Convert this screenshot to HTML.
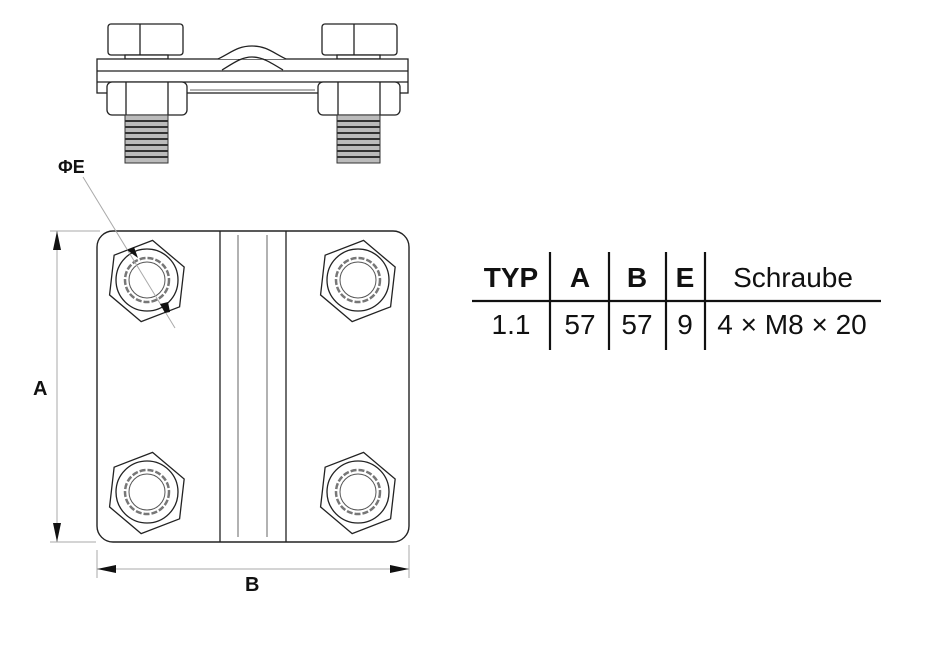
<!DOCTYPE html>
<html><head><style>body{margin:0;background:#fff}svg{display:block}</style></head>
<body>
<svg width="950" height="650" viewBox="0 0 950 650" xmlns="http://www.w3.org/2000/svg" font-family="Liberation Sans, Arial, sans-serif">
<defs>
<g id="bolt">
<polygon points="0,-40 35,-18 36,22 0,42 -35,20 -36,-20" transform="rotate(8)" fill="#fff" stroke="#222" stroke-width="1.3"/>
<circle r="31" fill="none" stroke="#222" stroke-width="1.3"/>
<circle r="22" fill="none" stroke="#777" stroke-width="2.5" stroke-dasharray="6 2"/>
<circle r="18" fill="none" stroke="#555" stroke-width="1"/>
</g>
<g id="thread">
<rect x="0" y="0" width="43" height="48" fill="#bbb" stroke="#333" stroke-width="1"/>
<g stroke="#333" stroke-width="2">
<line x1="0" y1="6" x2="43" y2="6"/><line x1="0" y1="12" x2="43" y2="12"/><line x1="0" y1="18" x2="43" y2="18"/><line x1="0" y1="24" x2="43" y2="24"/><line x1="0" y1="30" x2="43" y2="30"/><line x1="0" y1="36" x2="43" y2="36"/><line x1="0" y1="42" x2="43" y2="42"/></g>
</g>
</defs>
<!-- top view -->
<g stroke="#222" stroke-width="1.3" fill="#fff">
<rect x="108" y="24" width="75" height="31" rx="3"/><line x1="140" y1="24" x2="140" y2="55"/>
<rect x="322" y="24" width="75" height="31" rx="3"/><line x1="354" y1="24" x2="354" y2="55"/>
<rect x="125" y="55" width="43" height="4"/><rect x="337" y="55" width="43" height="4"/>
<rect x="97" y="59" width="311" height="34"/>
<line x1="97" y1="71" x2="408" y2="71"/><line x1="97" y1="82" x2="408" y2="82"/>
<path d="M218,59 C232,52 238,46 252,46 C266,46 272,52 286,59" fill="#fff"/>
<path d="M222,70 C235,62 242,57 252,57 C262,57 270,62 283,70" fill="none"/>
<rect x="107" y="82" width="80" height="33" rx="5"/><line x1="126" y1="82" x2="126" y2="115"/><line x1="168" y1="82" x2="168" y2="115"/>
<rect x="318" y="82" width="82" height="33" rx="5"/><line x1="338" y1="82" x2="338" y2="115"/><line x1="380" y1="82" x2="380" y2="115"/>
</g>
<line x1="190" y1="90" x2="315" y2="90" stroke="#999" stroke-width="1.5"/>
<use href="#thread" x="125" y="115"/><use href="#thread" x="337" y="115"/>
<!-- plate -->
<rect x="97" y="231" width="312" height="311" rx="16" fill="#fff" stroke="#222" stroke-width="1.4"/>
<line x1="220" y1="231" x2="220" y2="542" stroke="#222" stroke-width="1.3"/>
<line x1="286" y1="231" x2="286" y2="542" stroke="#222" stroke-width="1.3"/>
<line x1="238" y1="235" x2="238" y2="537" stroke="#666" stroke-width="1"/>
<line x1="267" y1="235" x2="267" y2="537" stroke="#666" stroke-width="1"/>
<use href="#bolt" x="147" y="280"/><use href="#bolt" x="358" y="280"/>
<use href="#bolt" x="147" y="492"/><use href="#bolt" x="358" y="492"/>
<!-- dims -->
<g stroke="#aaa" stroke-width="1">
<line x1="50" y1="231" x2="100" y2="231"/><line x1="50" y1="542" x2="96" y2="542"/>
<line x1="57" y1="231" x2="57" y2="542"/>
<line x1="97" y1="550" x2="97" y2="578"/><line x1="409" y1="545" x2="409" y2="578"/>
<line x1="97" y1="569" x2="409" y2="569"/>
<line x1="83" y1="177" x2="175" y2="328"/>
</g>
<polygon points="57,231 53,250 61,250" fill="#111"/>
<polygon points="57,542 53,523 61,523" fill="#111"/>
<polygon points="97,569 116,565 116,573" fill="#111"/>
<polygon points="409,569 390,565 390,573" fill="#111"/>
<polygon points="127,250 134,247 138,258" fill="#111"/>
<polygon points="165,313 160,304 168,302 170,312" fill="#111"/>
<text x="58" y="173" font-size="18" font-weight="bold" fill="#111">ΦE</text>
<text x="33" y="395" font-size="20" font-weight="bold" fill="#111">A</text>
<text x="245" y="591" font-size="20" font-weight="bold" fill="#111">B</text>
<!-- table -->
<g stroke="#111" stroke-width="2.2">
<line x1="472" y1="301" x2="881" y2="301"/>
<line x1="550" y1="252" x2="550" y2="350"/><line x1="609" y1="252" x2="609" y2="350"/>
<line x1="666" y1="252" x2="666" y2="350"/><line x1="705" y1="252" x2="705" y2="350"/>
</g>
<g font-size="28" fill="#111" text-anchor="middle">
<text x="511" y="287" font-weight="bold">TYP</text>
<text x="580" y="287" font-weight="bold">A</text>
<text x="637" y="287" font-weight="bold">B</text>
<text x="685" y="287" font-weight="bold">E</text>
<text x="793" y="287">Schraube</text>
<text x="511" y="334">1.1</text>
<text x="580" y="334">57</text>
<text x="637" y="334">57</text>
<text x="685" y="334">9</text>
<text x="792" y="334">4 × M8 × 20</text>
</g>
</svg>
</body></html>
